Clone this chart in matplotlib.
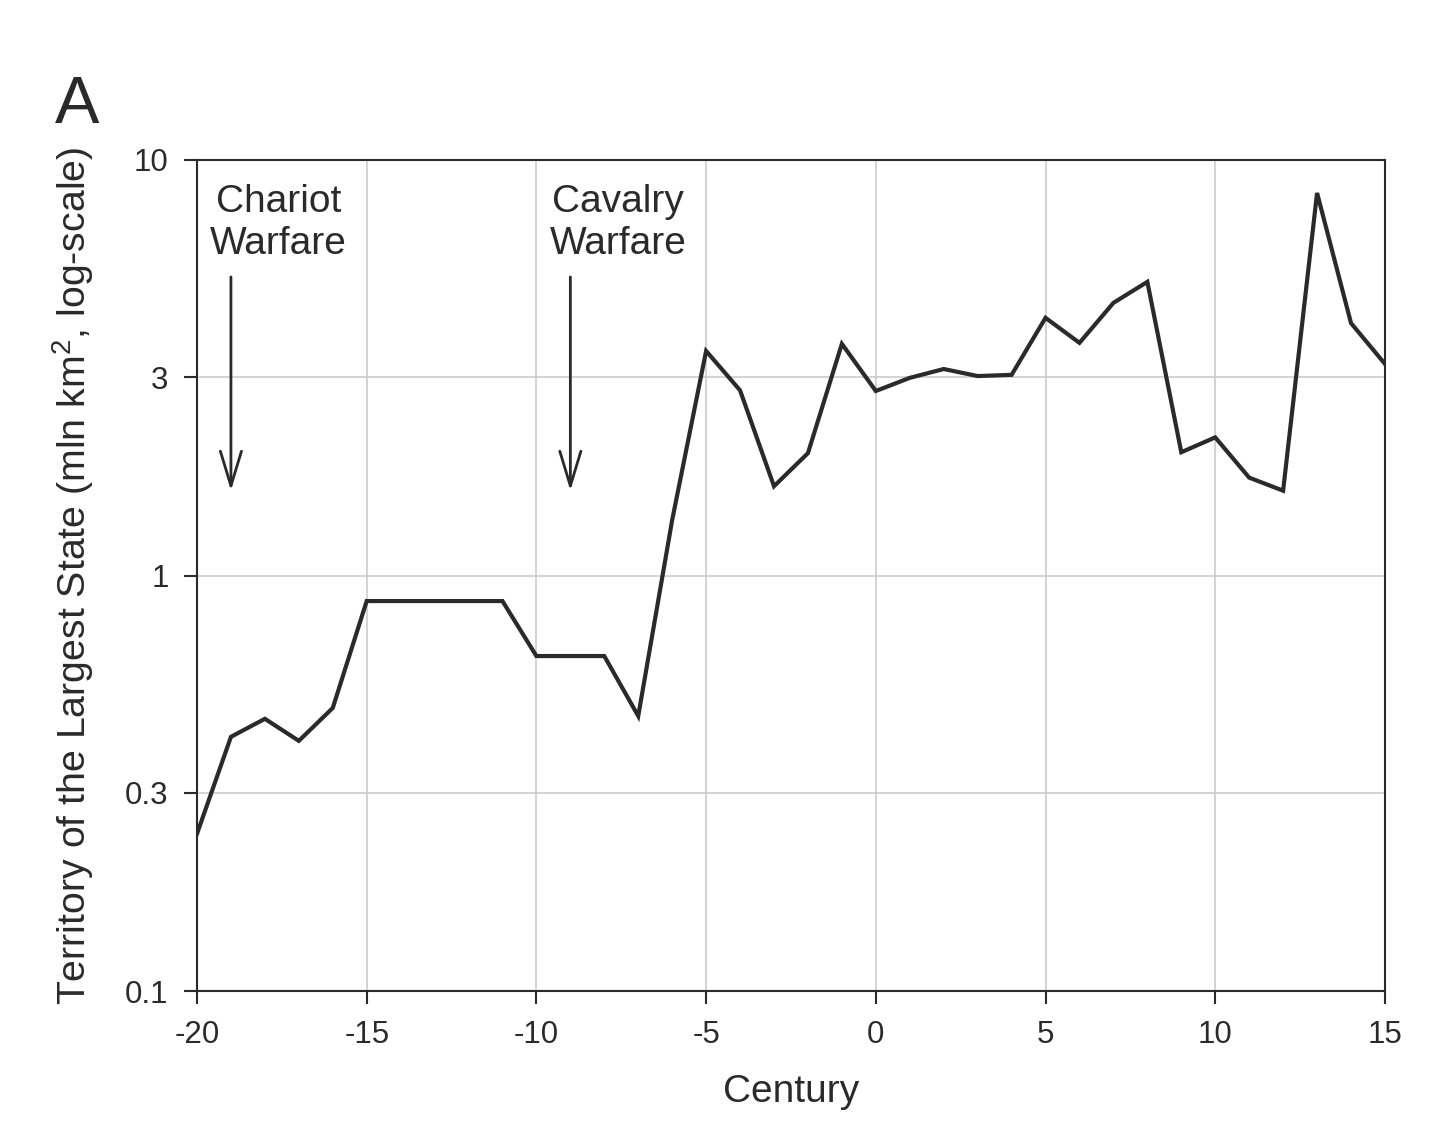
import matplotlib
matplotlib.use("Agg")
import matplotlib.pyplot as plt
import numpy as np

# --------------------------------------
# Data
# --------------------------------------
century = list(range(-20, 16))
territory = [0.239, 0.409, 0.452, 0.400, 0.480, 0.868, 0.868, 0.868, 0.868, 0.868,
             0.640, 0.640, 0.640, 0.459, 1.36, 3.47, 2.79, 1.64, 1.97, 3.61,
             2.78, 2.99, 3.14, 3.02, 3.04, 4.17, 3.63, 4.53, 5.09, 1.98,
             2.15, 1.72, 1.60, 8.33, 4.05, 3.23]

x_ticks = [-20, -15, -10, -5, 0, 5, 10, 15]
y_ticks = [0.1, 0.3, 1, 3, 10]
y_tick_labels = ["0.1", "0.3", "1", "3", "10"]

events = ["Chariot\nWarfare", "Cavalry\nWarfare"]
event_century = [-19, -9]

# --------------------------------------
# Style
# --------------------------------------
plt.rcParams['font.family'] = ['Liberation Sans', 'DejaVu Sans']
plt.rcParams['mathtext.fontset'] = 'custom'
plt.rcParams['mathtext.rm'] = 'Liberation Sans'
plt.rcParams['mathtext.it'] = 'Liberation Sans'
plt.rcParams['axes.unicode_minus'] = False
dark = '#2a2a2a'

fig = plt.figure(figsize=(14.56, 11.33), dpi=100)
ax = fig.add_axes([0.1353, 0.1253, 0.8159, 0.7335])

ax.plot(century, territory, color=dark, linewidth=3.0, solid_joinstyle='miter', zorder=3)

ax.set_yscale('log')
ax.set_xlim(-20, 15)
ax.set_ylim(0.1, 10)
ax.set_xticks(x_ticks)
ax.set_yticks(y_ticks)
ax.set_yticklabels(y_tick_labels)
ax.minorticks_off()
ax.tick_params(direction='out', length=9.5, width=1.5, pad=11, labelsize=22.5,
               colors=dark)
ax.grid(True, color='#c8c8c8', linewidth=1.1, zorder=0)
for s in ax.spines.values():
    s.set_linewidth(1.5)
    s.set_color(dark)

ax.set_xlabel("Century", fontsize=28, color=dark)
ax.set_ylabel(r"Territory of the Largest State (mln km$^\mathregular{2}$, log-scale)",
              fontsize=28.3, color=dark)
ax.xaxis.set_label_coords(0.5, -0.1)
ax.yaxis.set_label_coords(-0.085, 0.5)

# arrows + labels
for label, c in zip(events, event_century):
    ax.annotate('', xy=(c, 1.60), xytext=(c, 5.23),
                arrowprops=dict(arrowstyle='->,head_length=1.25,head_width=0.38',
                                color=dark, linewidth=2.0, mutation_scale=20,
                                shrinkA=0, shrinkB=0))
    ax.text(c + 1.4, 7.05, label, ha='center', va='center', fontsize=28,
            color=dark, linespacing=1.2)

fig.text(55 / 1456, 1 - 123 / 1133, 'A', fontsize=48, color=dark, va='baseline')

plt.savefig("out.png", dpi=100)
